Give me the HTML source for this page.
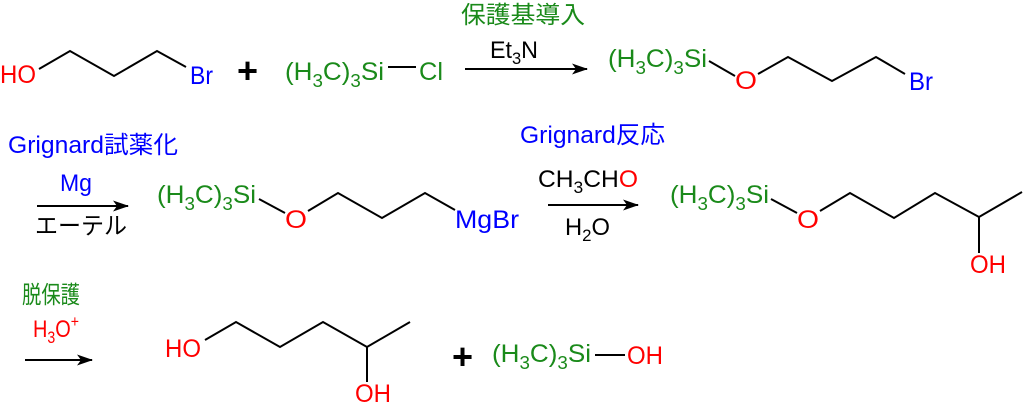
<!DOCTYPE html>
<html><head><meta charset="utf-8"><style>
html,body{margin:0;padding:0;background:#fff;}
svg{display:block;}
text{font-family:"Liberation Sans","Noto Sans CJK JP",sans-serif;}
.g{fill:#1a8a1a}.r{fill:#ff0000}.b{fill:#0000ff}.k{fill:#000}
line,polyline{stroke:#000;stroke-width:2;fill:none}
</style></head><body>
<svg width="1024" height="411" viewBox="0 0 1024 411" xmlns="http://www.w3.org/2000/svg">
<defs><marker id="a" markerWidth="16" markerHeight="11" refX="15" refY="5.5" orient="auto" markerUnits="userSpaceOnUse"><path d="M0,0 L16,5.5 L0,11 L4,5.5 z" fill="#000"/></marker></defs>

<!-- Row 1 -->
<text x="0" y="83" class="r" style="font-size:25px" textLength="36" lengthAdjust="spacingAndGlyphs">HO</text>
<polyline points="39,69 70,51 114,76 157,51 186,67"/>
<text x="190" y="84" class="b" style="font-size:25px" textLength="23" lengthAdjust="spacingAndGlyphs">Br</text>
<text x="237" y="83" style="font-size:36px;font-weight:bold" class="k">+</text>
<text x="285" y="80" class="g" style="font-size:25px" textLength="99" lengthAdjust="spacingAndGlyphs">(H<tspan style="font-size:18px" dy="7">3</tspan><tspan dy="-7">C)</tspan><tspan style="font-size:18px" dy="7">3</tspan><tspan dy="-7">Si</tspan></text>
<line x1="388" y1="67" x2="416" y2="67"/>
<text x="419" y="80" class="g" style="font-size:25px" textLength="24" lengthAdjust="spacingAndGlyphs">Cl</text>
<text x="461" y="23" class="g" style="font-size:24px" textLength="124" lengthAdjust="spacingAndGlyphs">保護基導入</text>
<text x="490" y="58" class="k" style="font-size:24px" textLength="48" lengthAdjust="spacingAndGlyphs">Et<tspan style="font-size:17px" dy="6">3</tspan><tspan dy="-6">N</tspan></text>
<line x1="465" y1="69" x2="587" y2="69" marker-end="url(#a)"/>
<text x="608" y="67" class="g" style="font-size:25px" textLength="99" lengthAdjust="spacingAndGlyphs">(H<tspan style="font-size:18px" dy="7">3</tspan><tspan dy="-7">C)</tspan><tspan style="font-size:18px" dy="7">3</tspan><tspan dy="-7">Si</tspan></text>
<line x1="709" y1="61" x2="735" y2="76"/>
<text x="735" y="89" class="r" style="font-size:25px" textLength="22" lengthAdjust="spacingAndGlyphs">O</text>
<polyline points="758,74 788,57 832,81 876,57 905,74"/>
<text x="909" y="90" class="b" style="font-size:25px" textLength="24" lengthAdjust="spacingAndGlyphs">Br</text>

<!-- Row 2 -->
<text x="8" y="153" class="b" style="font-size:24px" textLength="170" lengthAdjust="spacingAndGlyphs">Grignard試薬化</text>
<text x="60" y="191" class="b" style="font-size:24px" textLength="32" lengthAdjust="spacingAndGlyphs">Mg</text>
<line x1="37" y1="206" x2="128" y2="206" marker-end="url(#a)"/>
<text x="35" y="234" class="k" style="font-size:24px" textLength="92" lengthAdjust="spacingAndGlyphs">エーテル</text>
<text x="157" y="203" class="g" style="font-size:25px" textLength="99" lengthAdjust="spacingAndGlyphs">(H<tspan style="font-size:18px" dy="7">3</tspan><tspan dy="-7">C)</tspan><tspan style="font-size:18px" dy="7">3</tspan><tspan dy="-7">Si</tspan></text>
<line x1="259" y1="199" x2="285" y2="213"/>
<text x="285" y="228" class="r" style="font-size:25px" textLength="22" lengthAdjust="spacingAndGlyphs">O</text>
<polyline points="308,211 338,193 382,218 425,193 455,210"/>
<text x="455" y="228" class="b" style="font-size:25px" textLength="64" lengthAdjust="spacingAndGlyphs">MgBr</text>

<text x="520" y="143" class="b" style="font-size:24px" textLength="145" lengthAdjust="spacingAndGlyphs">Grignard反応</text>
<text x="538" y="187" class="k" style="font-size:24px" textLength="100" lengthAdjust="spacingAndGlyphs">CH<tspan style="font-size:17px" dy="6">3</tspan><tspan dy="-6">CH</tspan><tspan class="r">O</tspan></text>
<line x1="548" y1="205" x2="638" y2="205" marker-end="url(#a)"/>
<text x="565" y="235" class="k" style="font-size:24px" textLength="45" lengthAdjust="spacingAndGlyphs">H<tspan style="font-size:17px" dy="6">2</tspan><tspan dy="-6">O</tspan></text>
<text x="670" y="203" class="g" style="font-size:25px" textLength="99" lengthAdjust="spacingAndGlyphs">(H<tspan style="font-size:18px" dy="7">3</tspan><tspan dy="-7">C)</tspan><tspan style="font-size:18px" dy="7">3</tspan><tspan dy="-7">Si</tspan></text>
<line x1="771" y1="199" x2="797" y2="213"/>
<text x="797" y="228" class="r" style="font-size:25px" textLength="22" lengthAdjust="spacingAndGlyphs">O</text>
<polyline points="820,211 850,193 894,218 935,193 979,217 1022,192"/>
<line x1="979" y1="217" x2="979" y2="253"/>
<text x="970" y="273" class="r" style="font-size:25px" textLength="36" lengthAdjust="spacingAndGlyphs">OH</text>

<!-- Row 3 -->
<text x="22" y="303" class="g" style="font-size:24px" textLength="58" lengthAdjust="spacingAndGlyphs">脱保護</text>
<text x="33" y="337" class="r" style="font-size:24px" textLength="46" lengthAdjust="spacingAndGlyphs">H<tspan style="font-size:17px" dy="6">3</tspan><tspan dy="-6">O</tspan><tspan style="font-size:17px" dy="-10">+</tspan></text>
<line x1="25" y1="360" x2="92" y2="360" marker-end="url(#a)"/>
<text x="165" y="357" class="r" style="font-size:25px" textLength="36" lengthAdjust="spacingAndGlyphs">HO</text>
<polyline points="205,340 236,322 280,347 323,322 367,347 410,322"/>
<line x1="367" y1="347" x2="367" y2="382"/>
<text x="355" y="402" class="r" style="font-size:25px" textLength="36" lengthAdjust="spacingAndGlyphs">OH</text>
<text x="452" y="369" style="font-size:36px;font-weight:bold" class="k">+</text>
<text x="492" y="362" class="g" style="font-size:25px" textLength="99" lengthAdjust="spacingAndGlyphs">(H<tspan style="font-size:18px" dy="7">3</tspan><tspan dy="-7">C)</tspan><tspan style="font-size:18px" dy="7">3</tspan><tspan dy="-7">Si</tspan></text>
<line x1="595" y1="355" x2="625" y2="355"/>
<text x="627" y="364" class="r" style="font-size:25px" textLength="36" lengthAdjust="spacingAndGlyphs">OH</text>
</svg>
</body></html>
